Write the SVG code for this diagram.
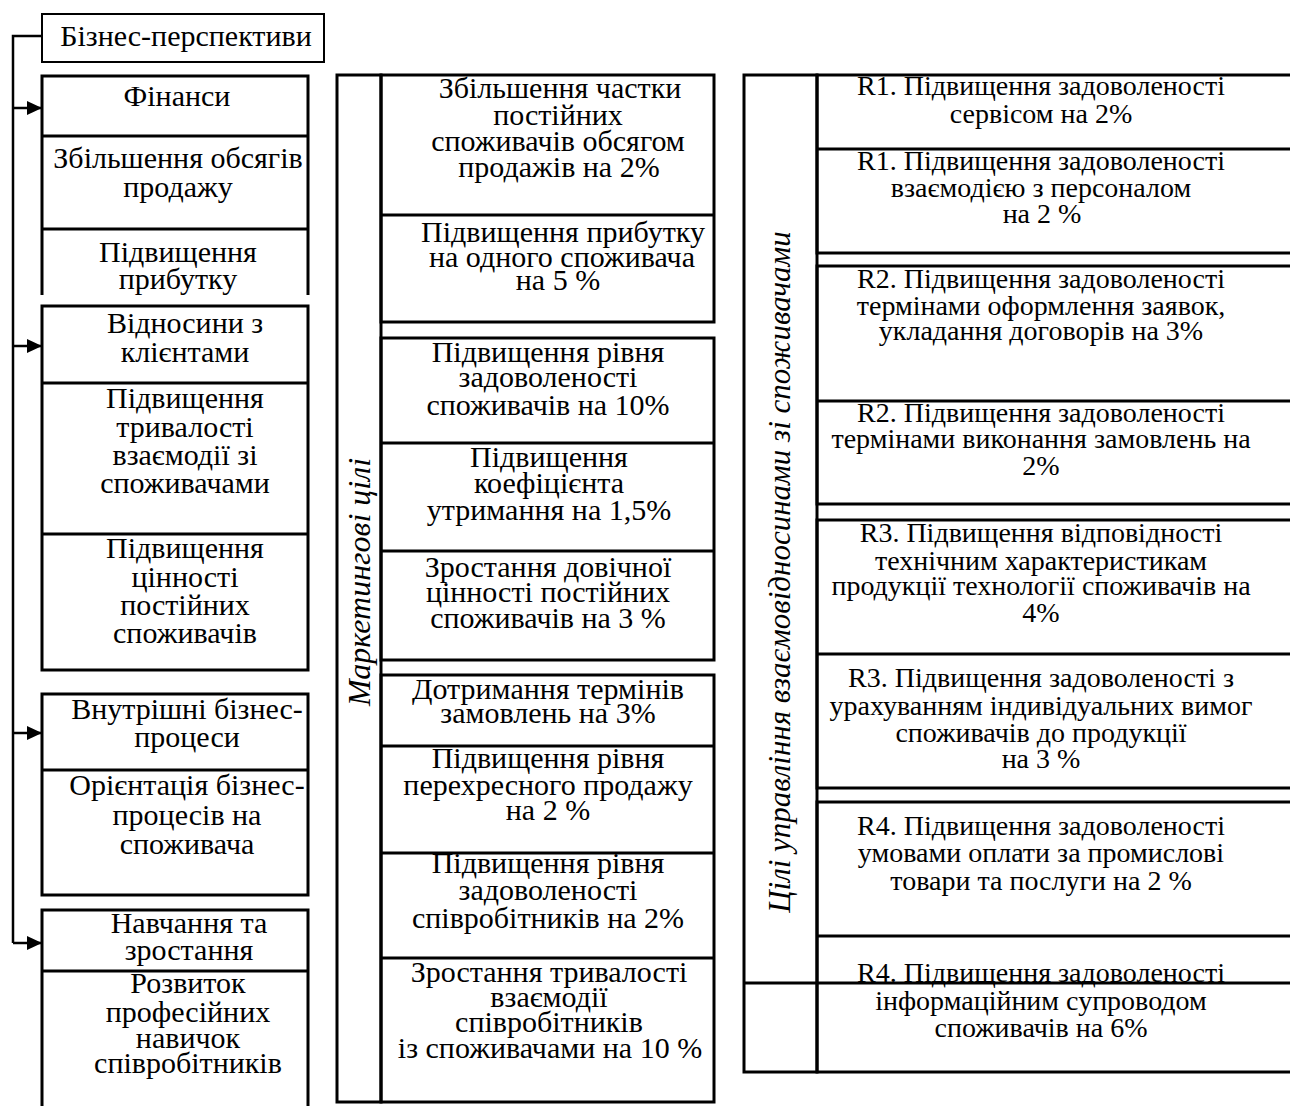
<svg xmlns="http://www.w3.org/2000/svg" width="1290" height="1106" viewBox="0 0 1290 1106">
<style>
.bx{fill:none;stroke:#000;stroke-width:3}
.thin{fill:none;stroke:#000;stroke-width:2}
.ln{stroke:#000;stroke-width:3;fill:none}
text{font-family:"Liberation Serif","Times New Roman",serif;font-size:30px;fill:#000}
.c{text-anchor:middle}
.r{font-size:28px}
.it{font-style:italic;text-anchor:middle}
.con{stroke:#000;stroke-width:2.5;fill:none}
</style>
<defs>
<marker id="ah" markerWidth="16" markerHeight="16" refX="15" refY="7" orient="auto" markerUnits="userSpaceOnUse">
<path d="M0,0 L15,7 L0,14 Z" fill="#000"/>
</marker>
</defs>

<g id="connectors">
<path class="con" d="M42,36 H13 V943"/>
<line class="con" x1="13" y1="108" x2="42" y2="108" marker-end="url(#ah)"/>
<line class="con" x1="13" y1="346" x2="42" y2="346" marker-end="url(#ah)"/>
<line class="con" x1="13" y1="733" x2="42" y2="733" marker-end="url(#ah)"/>
<line class="con" x1="13" y1="943" x2="42" y2="943" marker-end="url(#ah)"/>
</g>

<g id="business-perspectives">
<rect class="thin" x="42" y="14" width="282" height="48"/>
<text class="c" x="186" y="46">Бізнес-перспективи</text>
</g>

<g id="finance">
<path class="bx" d="M42,295 V76 H308 V295"/>
<line class="ln" x1="42" y1="136" x2="308" y2="136"/>
<line class="ln" x1="42" y1="229" x2="308" y2="229"/>
<text class="c" x="177" y="106">Фінанси</text>
<text class="c" x="178" y="168">Збільшення обсягів</text>
<text class="c" x="178" y="197">продажу</text>
<text class="c" x="178" y="262">Підвищення</text>
<text class="c" x="178" y="289">прибутку</text>
</g>

<g id="clients">
<rect class="bx" x="42" y="306" width="266" height="364"/>
<line class="ln" x1="42" y1="383" x2="308" y2="383"/>
<line class="ln" x1="42" y1="534" x2="308" y2="534"/>
<text class="c" x="185" y="333">Відносини з</text>
<text class="c" x="185" y="362">клієнтами</text>
<text class="c" x="185" y="408">Підвищення</text>
<text class="c" x="185" y="437">тривалості</text>
<text class="c" x="185" y="465">взаємодії зі</text>
<text class="c" x="185" y="493">споживачами</text>
<text class="c" x="185" y="558">Підвищення</text>
<text class="c" x="185" y="587">цінності</text>
<text class="c" x="185" y="615">постійних</text>
<text class="c" x="185" y="643">споживачів</text>
</g>

<g id="internal">
<rect class="bx" x="42" y="694" width="266" height="201"/>
<line class="ln" x1="42" y1="770" x2="308" y2="770"/>
<text class="c" x="187" y="719">Внутрішні бізнес-</text>
<text class="c" x="187" y="747">процеси</text>
<text class="c" x="187" y="795">Орієнтація бізнес-</text>
<text class="c" x="187" y="825">процесів на</text>
<text class="c" x="187" y="854">споживача</text>
</g>

<g id="learning">
<path class="bx" d="M42,1108 V910 H308 V1108"/>
<line class="ln" x1="42" y1="971" x2="308" y2="971"/>
<text class="c" x="189" y="933">Навчання та</text>
<text class="c" x="189" y="960">зростання</text>
<text class="c" x="188" y="993">Розвиток</text>
<text class="c" x="188" y="1022">професійних</text>
<text class="c" x="188" y="1048">навичок</text>
<text class="c" x="188" y="1073">співробітників</text>
</g>

<g id="marketing-label">
<rect class="bx" x="337" y="75" width="44" height="1027"/>
<text class="it" style="font-size:32px" transform="translate(370,582) rotate(-90)">Маркетингові цілі</text>
</g>

<g id="marketing-group1">
<rect class="bx" x="381" y="75" width="333" height="247"/>
<line class="ln" x1="381" y1="215" x2="714" y2="215"/>
<text class="c" x="560" y="98">Збільшення частки</text>
<text class="c" x="558" y="125">постійних</text>
<text class="c" x="558" y="151">споживачів обсягом</text>
<text class="c" x="559" y="177">продажів на 2%</text>
<text class="c" x="563" y="242">Підвищення прибутку</text>
<text class="c" x="562" y="267">на одного споживача</text>
<text class="c" x="558" y="290">на 5 %</text>
</g>

<g id="marketing-group2">
<rect class="bx" x="381" y="338" width="333" height="322"/>
<line class="ln" x1="381" y1="443" x2="714" y2="443"/>
<line class="ln" x1="381" y1="551" x2="714" y2="551"/>
<text class="c" x="548" y="362">Підвищення рівня</text>
<text class="c" x="548" y="387">задоволеності</text>
<text class="c" x="548" y="415">споживачів на 10%</text>
<text class="c" x="549" y="467">Підвищення</text>
<text class="c" x="549" y="493">коефіцієнта</text>
<text class="c" x="549" y="520">утримання на 1,5%</text>
<text class="c" x="548" y="577">Зростання довічної</text>
<text class="c" x="548" y="602">цінності постійних</text>
<text class="c" x="548" y="628">споживачів на 3 %</text>
</g>

<g id="marketing-group3">
<rect class="bx" x="381" y="675" width="333" height="427"/>
<line class="ln" x1="381" y1="746" x2="714" y2="746"/>
<line class="ln" x1="381" y1="853" x2="714" y2="853"/>
<line class="ln" x1="381" y1="958" x2="714" y2="958"/>
<text class="c" x="548" y="699">Дотримання термінів</text>
<text class="c" x="548" y="723">замовлень на 3%</text>
<text class="c" x="548" y="768">Підвищення рівня</text>
<text class="c" x="548" y="795">перехресного продажу</text>
<text class="c" x="548" y="820">на 2 %</text>
<text class="c" x="548" y="873">Підвищення рівня</text>
<text class="c" x="548" y="900">задоволеності</text>
<text class="c" x="548" y="928">співробітників на 2%</text>
<text class="c" x="549" y="982">Зростання тривалості</text>
<text class="c" x="549" y="1007">взаємодії</text>
<text class="c" x="549" y="1032">співробітників</text>
<text class="c" x="550" y="1058">із споживачами на 10 %</text>
</g>

<g id="crm-label">
<rect class="bx" x="744" y="75" width="73" height="997"/>
<text class="it" style="font-size:31px" transform="translate(790,572) rotate(-90)">Цілі управління взаємовідносинами зі споживачами</text>
</g>

<g id="crm-r1">
<rect class="bx" x="817" y="75" width="490" height="178"/>
<line class="ln" x1="817" y1="149" x2="1300" y2="149"/>
<text class="c r" x="1041" y="95">R1. Підвищення задоволеності</text>
<text class="c r" x="1041" y="123">сервісом на 2%</text>
<text class="c r" x="1041" y="170">R1. Підвищення задоволеності</text>
<text class="c r" x="1041" y="197">взаємодією з персоналом</text>
<text class="c r" x="1042" y="223">на 2 %</text>
</g>

<g id="crm-r2">
<rect class="bx" x="817" y="266" width="490" height="238"/>
<line class="ln" x1="817" y1="401" x2="1300" y2="401"/>
<text class="c r" x="1041" y="288">R2. Підвищення задоволеності</text>
<text class="c r" x="1041" y="315">термінами оформлення заявок,</text>
<text class="c r" x="1041" y="340">укладання договорів на 3%</text>
<text class="c r" x="1041" y="422">R2. Підвищення задоволеності</text>
<text class="c r" x="1041" y="448">термінами виконання замовлень на</text>
<text class="c r" x="1041" y="475">2%</text>
</g>

<g id="crm-r3">
<rect class="bx" x="817" y="520" width="490" height="268"/>
<line class="ln" x1="817" y1="654" x2="1300" y2="654"/>
<text class="c r" x="1041" y="542">R3. Підвищення відповідності</text>
<text class="c r" x="1041" y="570">технічним характеристикам</text>
<text class="c r" x="1041" y="595">продукції технології споживачів на</text>
<text class="c r" x="1041" y="622">4%</text>
<text class="c r" x="1041" y="687">R3. Підвищення задоволеності з</text>
<text class="c r" x="1041" y="715">урахуванням індивідуальних вимог</text>
<text class="c r" x="1041" y="742">споживачів до продукції</text>
<text class="c r" x="1041" y="768">на 3 %</text>
</g>

<g id="crm-r4">
<rect class="bx" x="817" y="802" width="490" height="270"/>
<line class="ln" x1="817" y1="936" x2="1300" y2="936"/>
<line class="ln" x1="744" y1="983" x2="1300" y2="983"/>
<text class="c r" x="1041" y="835">R4. Підвищення задоволеності</text>
<text class="c r" x="1041" y="862">умовами оплати за промислові</text>
<text class="c r" x="1041" y="890">товари та послуги на 2 %</text>
<text class="c r" x="1041" y="982">R4. Підвищення задоволеності</text>
<text class="c r" x="1041" y="1010">інформаційним супроводом</text>
<text class="c r" x="1041" y="1037">споживачів на 6%</text>
</g>
</svg>
